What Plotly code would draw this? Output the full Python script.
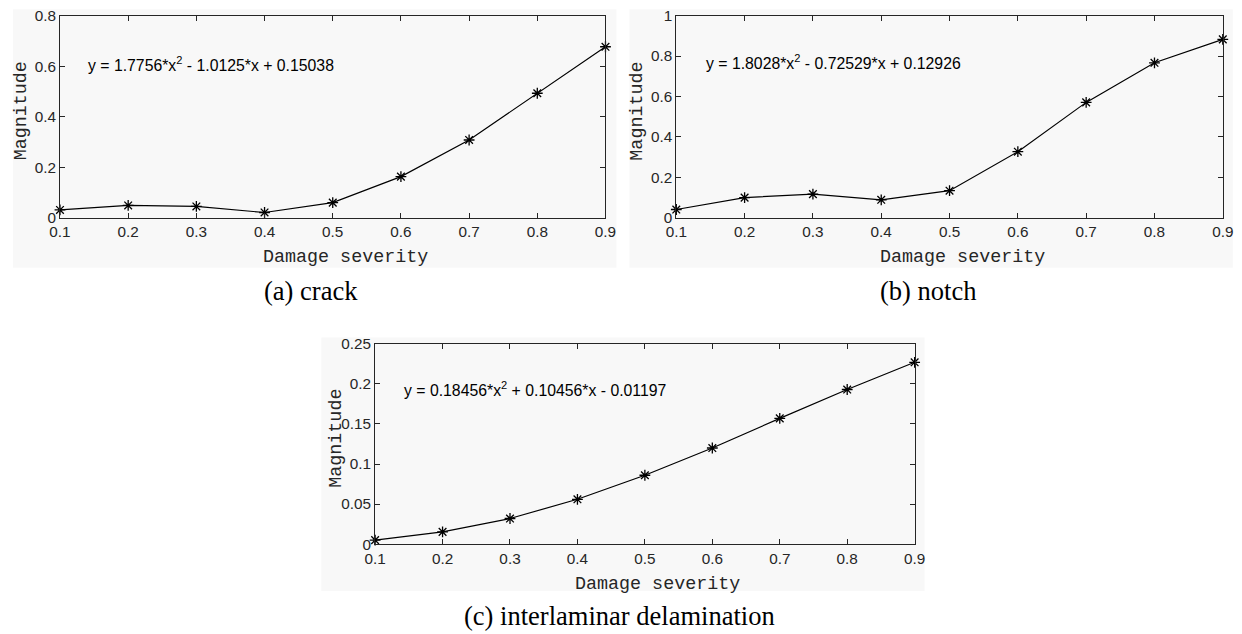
import plotly.graph_objects as go

# Calibration of the page: 8px body margin and the measured scale at which the
# page is photographed; positions below are given in picture pixels.
OFF = 8
SX, SY = 0.985, 0.975
W = int(round(1242 / SX - 2 * OFF)) - 2
H = int(round(634 / SY - 2 * OFF)) - 2
FS = 1 / ((SX + SY) / 2)

severity = [0.1, 0.2, 0.3, 0.4, 0.5, 0.6, 0.7, 0.8, 0.9]
crack = [0.031, 0.049, 0.045, 0.021, 0.060, 0.163, 0.308, 0.493, 0.677]
notch = [0.041, 0.100, 0.117, 0.089, 0.134, 0.327, 0.571, 0.767, 0.883]
delam = [0.005, 0.0153, 0.032, 0.056, 0.086, 0.120, 0.157, 0.193, 0.227]

x_ticks = [0.1, 0.2, 0.3, 0.4, 0.5, 0.6, 0.7, 0.8, 0.9]
x_ticktext = ["0.1", "0.2", "0.3", "0.4", "0.5", "0.6", "0.7", "0.8", "0.9"]
ya_ticks = [0, 0.2, 0.4, 0.6, 0.8]
ya_text = ["0", "0.2", "0.4", "0.6", "0.8"]
yb_ticks = [0, 0.2, 0.4, 0.6, 0.8, 1.0]
yb_text = ["0", "0.2", "0.4", "0.6", "0.8", "1"]
yc_ticks = [0, 0.05, 0.1, 0.15, 0.2, 0.25]
yc_text = ["0", "0.05", "0.1", "0.15", "0.2", "0.25"]

eq_a = "y = 1.7756*x<sup>2</sup> - 1.0125*x + 0.15038"
eq_b = "y = 1.8028*x<sup>2</sup> - 0.72529*x + 0.12926"
eq_c = "y = 0.18456*x<sup>2</sup> + 0.10456*x - 0.01197"
captions = ["(a) crack", "(b) notch", "(c) interlaminar delamination"]
x_title = "Damage severity"
y_title = "Magnitude"


def px(x):
    return (x / SX - OFF) / W


def py(y):
    return 1 - (y / SY - OFF) / H


# plot-area boxes in picture pixels: left, right, top, bottom
boxes = [(57, 604, 14.5, 217), (675, 1223, 14.5, 217), (373, 914, 343.3, 544)]
# gray panel backgrounds in picture pixels
panels = [(10, 615, 8, 267), (628, 1233, 8, 267), (319, 924, 337, 591)]

series = [crack, notch, delam]
yranges = [[0, 0.8], [0, 1.0], [0, 0.25]]
yticks = [(ya_ticks, ya_text), (yb_ticks, yb_text), (yc_ticks, yc_text)]
eqs = [(eq_a, 0.138, 0.607), (eq_b, 0.140, 0.772), (eq_c, 0.140, 0.194)]
cap_pos = [(309, 290), (927, 290), (618, 616)]

BG = "#f8f8f8"
AX = "#262626"

fig = go.Figure()
layout = dict(
    width=W, height=H, margin=dict(l=0, r=0, t=0, b=0),
    paper_bgcolor="white", plot_bgcolor=BG, showlegend=False,
    shapes=[], annotations=[],
)

for i in range(3):
    n = "" if i == 0 else str(i + 1)
    l, r, t, b = boxes[i]
    fig.add_trace(go.Scatter(
        x=severity, y=series[i], mode="lines+markers",
        xaxis="x" + n, yaxis="y" + n, cliponaxis=False,
        line=dict(color="black", width=1.2),
        marker=dict(symbol="asterisk-open", size=9, color="black",
                    line=dict(color="black", width=1.3)),
    ))
    common = dict(showline=True, mirror="ticks", linecolor=AX, linewidth=1,
                  ticks="inside", ticklen=5, tickcolor=AX, tickwidth=1,
                  showgrid=False, zeroline=False,
                  tickfont=dict(family="Liberation Sans, Arial", size=15 * FS, color="#262626"))
    layout["xaxis" + n] = dict(domain=[px(l), px(r)], range=[0.1, 0.9],
                               anchor="y" + n, tickvals=x_ticks, ticktext=x_ticktext,
                               **common)
    layout["yaxis" + n] = dict(domain=[py(b), py(t)], range=yranges[i],
                               anchor="x" + n, tickvals=yticks[i][0],
                               ticktext=yticks[i][1], **common)
    pl, pr, pt, pb = panels[i]
    layout["shapes"].append(dict(type="rect", xref="paper", yref="paper",
                                 x0=px(pl), x1=px(pr), y0=py(pb), y1=py(pt),
                                 fillcolor=BG, line=dict(width=0), layer="below"))
    eq, ex, ey = eqs[i]
    layout["annotations"].append(dict(
        text=eq, x=ex, y=ey, xref="x" + n, yref="y" + n, xanchor="left",
        yanchor="middle", showarrow=False,
        font=dict(family="Liberation Sans, Arial", size=15.5 * FS, color="black")))
    # axis titles
    cx = (l + r) / 2 + 13
    layout["annotations"].append(dict(
        text=x_title, x=px(cx), y=py(b + 40), xref="paper", yref="paper",
        xanchor="center", yanchor="middle", showarrow=False,
        font=dict(family="Liberation Mono, Courier New", size=18 * FS, color="#262626")))
    cy = (t + b) / 2 - 5.5
    layout["annotations"].append(dict(
        text=y_title, x=px(l - 39), y=py(cy), xref="paper", yref="paper",
        xanchor="center", yanchor="middle", showarrow=False, textangle=-90,
        font=dict(family="Liberation Mono, Courier New", size=18 * FS, color="#262626")))
    cxp, cyp = cap_pos[i]
    layout["annotations"].append(dict(
        text=captions[i], x=px(cxp), y=py(cyp), xref="paper", yref="paper",
        xanchor="center", yanchor="middle", showarrow=False,
        font=dict(family="Liberation Serif, Times New Roman", size=26 * FS, color="black")))

fig.update_layout(**layout)
fig.write_html("out.html")
